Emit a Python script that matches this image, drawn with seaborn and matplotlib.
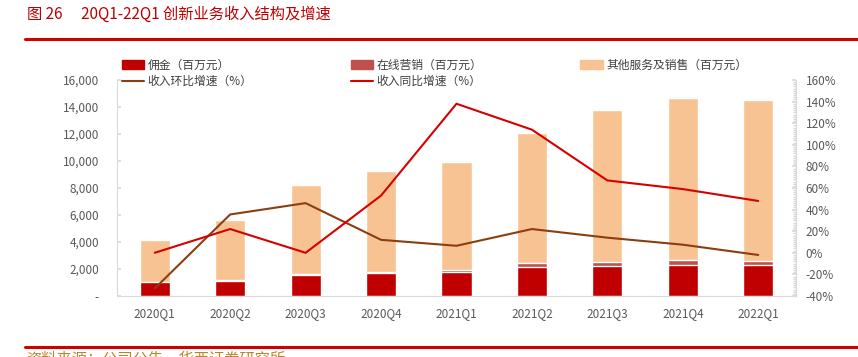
import numpy as np
import pandas as pd
import matplotlib
matplotlib.use('Agg')
import matplotlib.pyplot as plt
import seaborn as sns
from matplotlib.lines import Line2D
from matplotlib.patches import Patch
from matplotlib.ticker import MultipleLocator, FuncFormatter

# данные
quarters = ['2020Q1', '2020Q2', '2020Q3', '2020Q4', '2021Q1', '2021Q2', '2021Q3', '2021Q4', '2022Q1']
commission = [1000, 1130, 1580, 1700, 1780, 2150, 2250, 2320, 2300]
online = [40, 50, 80, 100, 180, 270, 250, 350, 300]
other = [3110, 4470, 6590, 7450, 7940, 9630, 11250, 12030, 11950]
qoq = [-33, 35.5, 46, 12, 6.5, 22, 14, 7.5, -2]
yoy = [0, 22, 0, 53, 138, 114, 67, 59, 48]

c_comm = '#C00000'
c_online = '#C0504D'
c_other = '#F8C393'
c_qoq = '#8B3E0F'
c_yoy = '#D60000'
c_title = '#C00000'
c_tick = '#595959'
c_axis = '#D9D9D9'

sns.set_theme(style='white')
plt.rcParams['font.family'] = ['Noto Sans CJK SC', 'DejaVu Sans']
plt.rcParams['axes.unicode_minus'] = False

df = pd.DataFrame({'q': quarters,
                   'comm': commission,
                   'online': online,
                   'other': other})
df['lvl2'] = df['comm'] + df['online']
df['lvl3'] = df['lvl2'] + df['other']

fig = plt.figure(figsize=(8.58, 3.57), dpi=100)
ax = fig.add_axes([0.1364, 0.1709, 0.7913, 0.605])

# столбцы с накоплением
sns.barplot(data=df, x='q', y='lvl3', color=c_other, saturation=1, width=0.4, errorbar=None, ax=ax)
sns.barplot(data=df, x='q', y='lvl2', color=c_online, saturation=1, width=0.4, errorbar=None, ax=ax)
sns.barplot(data=df, x='q', y='comm', color=c_comm, saturation=1, width=0.4, errorbar=None, ax=ax)

ax.set_ylim(0, 16000)
ax.set_xlim(-0.5, 8.5)
ax.yaxis.set_major_locator(MultipleLocator(2000))
ax.yaxis.set_major_formatter(FuncFormatter(lambda v, p: '-' if v == 0 else f'{int(v):,}'))
ax.set_xlabel('')
ax.set_ylabel('')
ax.tick_params(axis='y', direction='in', length=3, color=c_axis, labelcolor=c_tick, labelsize=8.5, pad=13, left=True)
ax.tick_params(axis='x', length=0, labelcolor=c_tick, labelsize=8.5, pad=8)
for s in ['left', 'bottom', 'right']:
    ax.spines[s].set_color(c_axis)
    ax.spines[s].set_linewidth(0.8)
ax.spines['top'].set_visible(False)

# линии на правой оси
ax2 = ax.twinx()
sns.lineplot(x=quarters, y=qoq, color=c_qoq, linewidth=1.5, sort=False, ax=ax2)
sns.lineplot(x=quarters, y=yoy, color=c_yoy, linewidth=1.5, sort=False, ax=ax2)
ax2.set_ylim(-40, 160)
ax2.yaxis.set_major_locator(MultipleLocator(20))
ax2.yaxis.set_minor_locator(MultipleLocator(2))
ax2.yaxis.set_major_formatter(FuncFormatter(lambda v, p: f'{int(v)}%'))
ax2.tick_params(axis='y', which='major', direction='in', length=3, color=c_axis, labelcolor=c_tick, labelsize=8.5, pad=7, right=True)
ax2.tick_params(axis='y', which='minor', direction='in', length=2, color=c_axis, right=True)
for s in ['top', 'left', 'bottom']:
    ax2.spines[s].set_visible(False)
ax2.spines['right'].set_color(c_axis)
ax2.spines['right'].set_linewidth(0.8)

# легенда
handles = [Patch(color=c_comm), Line2D([], [], color=c_qoq, lw=1.5),
           Patch(color=c_online), Line2D([], [], color=c_yoy, lw=1.5),
           Patch(color=c_other)]
labels = ['佣金（百万元）', '收入环比增速（%）',
          '在线营销（百万元）', '收入同比增速（%）',
          '其他服务及销售（百万元）']
leg = fig.legend(handles, labels, ncol=3, loc='upper left', bbox_to_anchor=(0.135, 0.852),
                 frameon=False, fontsize=8.5, handlelength=1.9, handleheight=0.7,
                 handletextpad=0.3, columnspacing=8.3, labelspacing=0.25, borderpad=0)
for t in leg.get_texts():
    t.set_color('#404040')

# заголовок и рамки
fig.text(0.031, 0.961, '图 26\u3000 20Q1-22Q1 创新业务收入结构及增速', color=c_title, fontsize=11, va='center', ha='left')
fig.add_artist(Line2D([0.029, 1.0], [0.891, 0.891], color='#D00000', lw=2.2, transform=fig.transFigure))
fig.add_artist(Line2D([0.029, 1.0], [0.028, 0.028], color='#D00000', lw=2.2, transform=fig.transFigure))
fig.text(0.031, 0.018, '资料来源：公司公告，华西证券研究所', color='#B8862E', fontsize=11, va='top', ha='left')

fig.savefig('out.png', dpi=100)
